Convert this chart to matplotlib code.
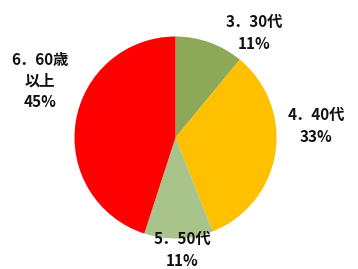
import matplotlib
matplotlib.use("Agg")
import matplotlib.pyplot as plt

plt.rcParams['font.family'] = ['Noto Sans CJK JP', 'DejaVu Sans']

# データ
categories = ["3．30代", "4．40代", "5．50代", "6．60歳\n以上"]
shares = [11, 33, 11, 45]
colors = ["#8EA85A", "#FFC000", "#A9C48B", "#FF0000"]
# ラベル位置 (ピクセル座標, 上から)
label_pos = [(254, 33), (316, 126), (182, 250), (40, 81)]

W, H = 358, 269
fig = plt.figure(figsize=(W / 100, H / 100), dpi=100)
ax = fig.add_axes([0, 0, 1, 1])

ax.pie(shares, colors=colors, startangle=90, counterclock=False,
       center=(175.5, H - 137.5), radius=101,
       wedgeprops=dict(linewidth=0))

ax.set_xlim(0, W)
ax.set_ylim(0, H)
ax.set_aspect('equal')
ax.axis('off')

for cat, val, (x, y) in zip(categories, shares, label_pos):
    ax.text(x, H - y, f"{cat}\n{val}%", ha='center', va='center',
            fontsize=11, fontweight='bold', linespacing=1.4, color='#111111')

fig.savefig("out.png", dpi=100)
